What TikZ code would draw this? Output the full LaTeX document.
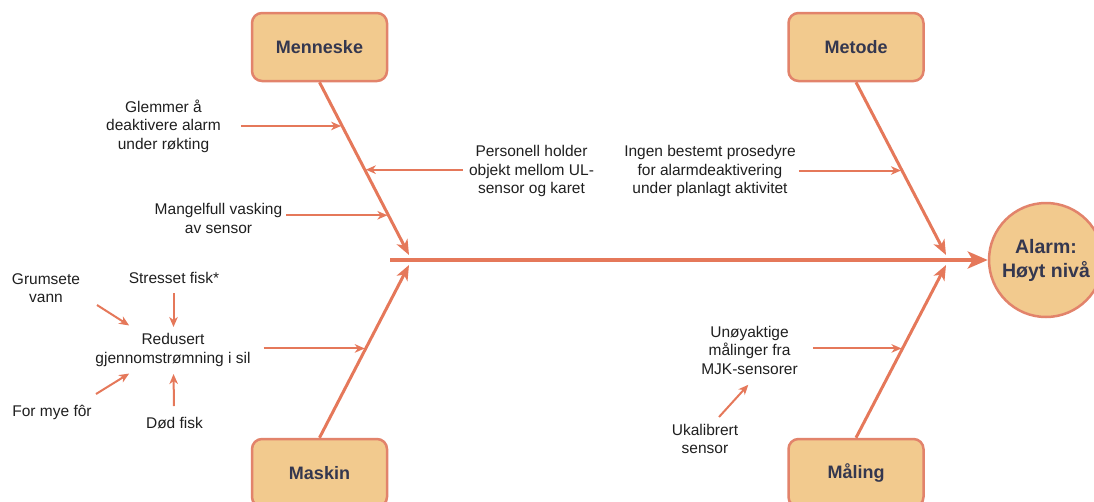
\documentclass[tikz,border=0pt]{standalone}
\usepackage{fontspec}
\setmainfont{Liberation Sans}
\usetikzlibrary{arrows.meta,calc}
\definecolor{bonecol}{HTML}{E5785A}
\definecolor{boxedge}{HTML}{E2836B}
\definecolor{boxfill}{HTML}{F2CA8E}
\definecolor{boxtext}{HTML}{34374F}
\definecolor{causetext}{HTML}{1F1F1F}
\begin{document}
\begin{tikzpicture}[x=1pt,y=-1pt,
  category/.style={draw=boxedge, fill=boxfill, line width=2.5pt, rounded corners=10pt,
    minimum width=135pt, minimum height=68pt, inner sep=0pt,
    font=\fontsize{18}{22}\selectfont\bfseries, text=boxtext},
  effectnode/.style={circle, draw=boxedge, fill=boxfill, line width=2.5pt,
    minimum size=114pt, inner sep=0pt, align=center,
    font=\fontsize{19.5}{24}\selectfont\bfseries, text=boxtext},
  cause/.style={align=center, inner sep=0pt,
    font=\fontsize{15.5}{18.5}\selectfont, text=causetext},
  bone/.style={draw=bonecol, line width=3pt, -{Stealth[length=15pt,width=12pt,inset=4pt]}},
  spine/.style={draw=bonecol, line width=4pt, -{Stealth[length=20pt,width=17pt,inset=5pt]}},
  leaf/.style={draw=bonecol, line width=2pt, -{Stealth[length=10pt,width=8.5pt,inset=3pt]}, shorten >=1pt},
]
\useasboundingbox (0,0) rectangle (1094,501);
\clip (0,0) rectangle (1094,501);

% effect and categories
\node[effectnode] (effect) at (1046,260) {Alarm:\\Høyt nivå};
\node[category] (menneske) at (319.5,47) {Menneske};
\node[category] (metode)   at (856,47)   {Metode};
\node[category] (maskin)   at (319.5,473) {Maskin};
\node[category] (maling)   at (856,473)  {Måling};

% where the bones meet the spine
\coordinate (spinestart) at (390,260);
\coordinate (mtip) at (409,255);
\coordinate (ktip) at (409,265);
\coordinate (etip) at (946,255);
\coordinate (ltip) at (946,265);

% spine
\draw[spine] (spinestart) -- (effect.west);

% bones, with attachment points for the causes
\draw[bone] (menneske.south) -- coordinate[pos=0.253] (m1) coordinate[pos=0.506] (m2)
  coordinate[pos=0.770] (m3) (mtip);
\draw[bone] (metode.south) -- coordinate[pos=0.511] (e1) (etip);
\draw[bone] (maskin.north) -- coordinate[pos=0.517] (k1) (ktip);
\draw[bone] (maling.north) -- coordinate[pos=0.517] (l1) (ltip);

% causes
\node[cause] (glemmer)   at (163.5,126) {Glemmer å\\deaktivere alarm\\under røkting};
\node[cause] (mangel)    at (218.5,218.5) {Mangelfull vasking\\av sensor};
\node[cause] (personell) at (531.5,171) {Personell holder\\objekt mellom UL-\\sensor og karet};
\node[cause] (ingen)     at (710,171) {Ingen bestemt prosedyre\\for alarmdeaktivering\\under planlagt aktivitet};
\node[cause] (redusert)  at (173,350) {Redusert\\gjennomstrømning i sil};
\node[cause] (grumsete)  at (46,288) {Grumsete\\vann};
\node[cause] (stresset)  at (174,278) {Stresset fisk*};
\node[cause] (formye)    at (52,412) {For mye fôr};
\node[cause] (dod)       at (174.5,423) {Død fisk};
\node[cause] (unoy)      at (749.5,350) {Unøyaktige\\målinger fra\\MJK-sensorer};
\node[cause] (ukal)      at (705,439) {Ukalibrert\\sensor};

% causes onto bones
\draw[leaf, shorten <=20pt] (m1 -| glemmer.east) -- (m1);
\draw[leaf, shorten <=6pt]  (m2 -| personell.west) -- (m2);
\draw[leaf, shorten <=4pt]  (m3 -| mangel.east) -- (m3);
\draw[leaf, shorten <=3pt]  (e1 -| ingen.east) -- (e1);
\draw[leaf, shorten <=13pt] (k1 -| redusert.east) -- (k1);
\draw[leaf, shorten <=15pt] (l1 -| unoy.east) -- (l1);

% sub-causes
\draw[leaf] ($(grumsete)+(51,17)$) -- ($(redusert)+(-43,-24)$);
\draw[leaf] ($(stresset)+(-0.5,15)$) -- ($(redusert)+(0.5,-22)$);
\draw[leaf] ($(formye)+(44,-18)$) -- ($(redusert)+(-43,23)$);
\draw[leaf] ($(dod)+(-0.5,-17)$) -- ($(redusert)+(0.5,23)$);
\draw[leaf] ($(ukal)+(14,-22)$) -- ($(unoy)+(-0.5,34)$);
\end{tikzpicture}
\end{document}
